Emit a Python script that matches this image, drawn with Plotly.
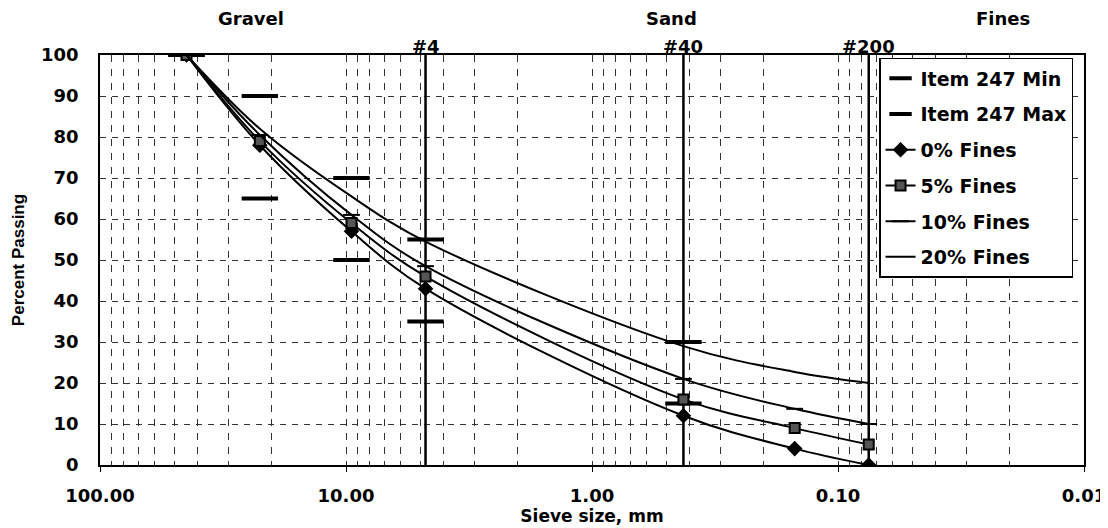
import math
import plotly.graph_objects as go

# ---- data ----
sieve_mm = [44.5, 22.4, 9.5, 4.75, 0.425, 0.15, 0.075]
spec_sieve_mm = [44.5, 22.4, 9.5, 4.75, 0.425]
item247_min = [100, 65, 50, 35, 15]
item247_max = [100, 90, 70, 55, 30]
fines_0 = [100, 78, 57, 43, 12, 4, 0]
fines_5 = [100, 79, 59, 46, 16, 9, 5]
fines_10 = [100, 80.5, 61, 48.5, 21, 13.7, 10]
fines_20 = [100, 82, 65.5, 54.5, 29, 22.7, 20]

sieve_lines = [4.75, 0.425, 0.075]
sieve_line_labels = ["#4", "#40", "#200"]
x_tickvals = [100, 10, 1, 0.1, 0.01]
x_ticktext = ["100.00", "10.00", "1.00", "0.10", "0.01"]
zone_labels = ["Gravel", "Sand", "Fines"]
zone_x_paper = [0.1535, 0.581, 0.918]

BOLD = "DejaVu Sans"
fig = go.Figure()

# vertical sieve reference lines
for sx in sieve_lines:
    fig.add_trace(go.Scatter(x=[sx, sx], y=[0, 100], mode="lines",
                             line=dict(color="black", width=2.5),
                             showlegend=False, hoverinfo="skip"))

fig.add_trace(go.Scatter(x=spec_sieve_mm, y=item247_min, mode="markers", name="Item 247 Min",
                         legendgroup="a",
                         marker=dict(symbol="line-ew", size=26, line=dict(color="black", width=4))))
fig.add_trace(go.Scatter(x=spec_sieve_mm, y=item247_max, mode="markers", name="Item 247 Max",
                         legendgroup="b",
                         marker=dict(symbol="line-ew", size=26, line=dict(color="black", width=4))))
fig.add_trace(go.Scatter(x=sieve_mm, y=fines_0, mode="lines+markers", name="0% Fines",
                         legendgroup="c",
                         line=dict(color="black", width=2, shape="spline"),
                         marker=dict(symbol="diamond", size=12, color="black")))
fig.add_trace(go.Scatter(x=sieve_mm, y=fines_5, mode="lines+markers", name="5% Fines",
                         legendgroup="d",
                         line=dict(color="black", width=2, shape="spline"),
                         marker=dict(symbol="square", size=10, color="#555555",
                                     line=dict(color="black", width=2))))
fig.add_trace(go.Scatter(x=sieve_mm, y=fines_10, mode="lines+markers", name="10% Fines",
                         legendgroup="e",
                         line=dict(color="black", width=2, shape="spline"),
                         marker=dict(symbol="line-ew", size=12, line=dict(color="black", width=2))))
fig.add_trace(go.Scatter(x=sieve_mm, y=fines_20, mode="lines", name="20% Fines",
                         legendgroup="f",
                         line=dict(color="black", width=2, shape="spline")))

minor_vals = []
for dec in [10, 1, 0.1, 0.01]:
    for k in range(2, 10):
        minor_vals.append(k * dec)

annotations = []
for txt, xp in zip(zone_labels, zone_x_paper):
    annotations.append(dict(text=txt, x=xp, y=1.09, xref="paper", yref="paper",
                            showarrow=False, xanchor="center", yanchor="middle",
                            font=dict(family=BOLD, size=18, color="black", weight="bold")))
for sx, lab in zip(sieve_lines, sieve_line_labels):
    annotations.append(dict(text=lab, x=math.log10(sx), y=1, xref="x", yref="paper",
                            showarrow=False, xanchor="center", yanchor="bottom", yshift=-4,
                            font=dict(family=BOLD, size=18, color="black", weight="bold")))

fig.update_layout(
    width=1100, height=520,
    margin=dict(l=92, r=24, t=47, b=63, autoexpand=False),
    paper_bgcolor="white", plot_bgcolor="white",
    font=dict(family=BOLD, color="black"),
    annotations=annotations,
    legend=dict(x=0.7917, y=0.9927, xanchor="left", yanchor="top",
                bgcolor="white", bordercolor="black", borderwidth=1.5,
                traceorder="grouped", tracegroupgap=8,
                font=dict(family=BOLD, size=19, color="black", weight="bold")),
    xaxis=dict(type="log", range=[2, -2],
               tickvals=x_tickvals, ticktext=x_ticktext,
               tickfont=dict(family=BOLD, size=18, color="black", weight="bold"),
               ticks="outside", ticklen=5, tickcolor="black", ticklabelstandoff=9,
               showline=True, linecolor="black", linewidth=1.5, mirror=True,
               showgrid=True, gridcolor="#333333", gridwidth=1, griddash="7px,7px",
               minor=dict(tickvals=minor_vals, showgrid=True, gridcolor="#333333",
                          gridwidth=1, griddash="7px,7px", ticks=""),
               zeroline=False,
               title=dict(text="Sieve size, mm", standoff=4,
                          font=dict(family=BOLD, size=17, color="black", weight="bold"))),
    yaxis=dict(range=[0, 100], dtick=10, tick0=0,
               tickfont=dict(family=BOLD, size=18, color="black", weight="bold"),
               ticks="", ticklabelstandoff=16,
               showline=True, linecolor="black", linewidth=1.5, mirror=True,
               showgrid=True, gridcolor="#333333", gridwidth=1, griddash="6px,6px",
               zeroline=False,
               title=dict(text="Percent Passing", standoff=12,
                          font=dict(family="Liberation Sans", size=17, color="black", weight="bold"))),
)

fig.write_html("out.html")
